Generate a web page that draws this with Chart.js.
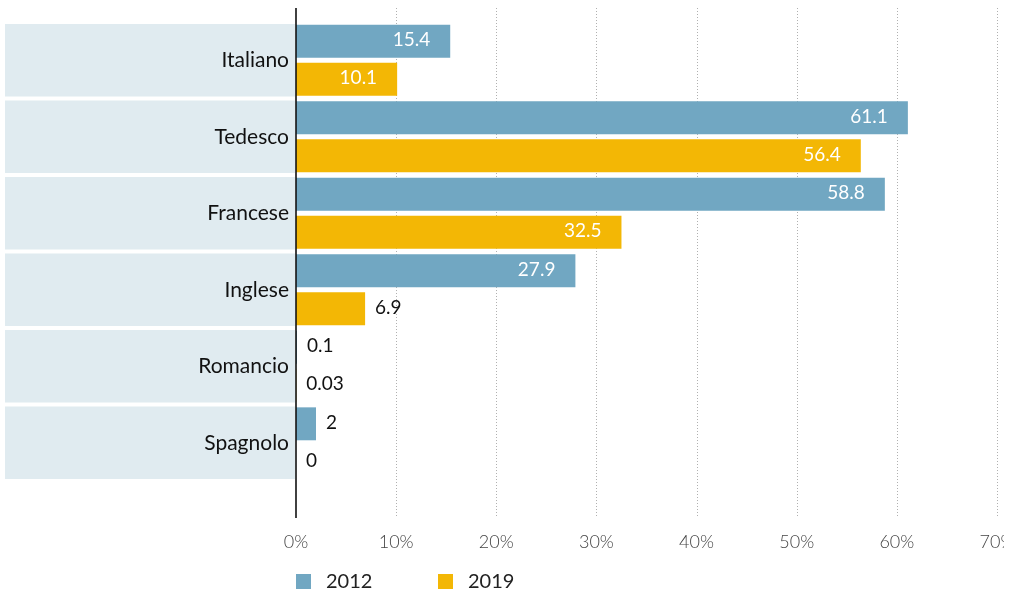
<!DOCTYPE html>
<html>
<head>
<meta charset="utf-8">
<script src="https://cdn.jsdelivr.net/npm/chart.js@4/dist/chart.umd.min.js"></script>
<style>
  html, body { margin: 0; padding: 0; background: #fff; overflow: hidden; }
  #wrap { width: 1004px; height: 591px; overflow: hidden; }
  canvas { display: block; }
</style>
</head>
<body>
<div id="wrap"><canvas id="c" width="1013" height="591"></canvas></div>
<script>
// Languages and shares per survey year (percent)
const categories = ['Italiano', 'Tedesco', 'Francese', 'Inglese', 'Romancio', 'Spagnolo'];
const seriesLabels = ['2012', '2019'];
const values2012 = [15.4, 61.1, 58.8, 27.9, 0.1, 2];
const values2019 = [10.1, 56.4, 32.5, 6.9, 0.03, 0];
const xTickValues = [0, 10, 20, 30, 40, 50, 60, 70];

const BLUE = '#71a7c2';
const YELLOW = '#f3b705';
const ROW_BG = '#e0ebf0';
const FONT = 'Lato, "Open Sans", sans-serif';

// Shaded row panels behind each category label
const rowPanels = {
  id: 'rowPanels',
  beforeDraw(chart) {
    const { ctx, chartArea, scales: { y } } = chart;
    const band = chartArea.height / categories.length;
    ctx.save();
    ctx.fillStyle = ROW_BG;
    categories.forEach((_, i) => {
      const cy = y.getPixelForValue(i);
      ctx.fillRect(5, cy - band / 2 + 2, chartArea.left - 6, band - 4);
    });
    ctx.restore();
  }
};

// Dotted vertical grid and the solid zero axis, running past the plot area
const gridAndAxis = {
  id: 'gridAndAxis',
  beforeDatasetsDraw(chart) {
    const { ctx, scales: { x } } = chart;
    ctx.save();
    ctx.strokeStyle = '#b0b0b0';
    ctx.lineWidth = 1;
    ctx.setLineDash([1, 2]);
    xTickValues.slice(1).forEach(v => {
      const px = Math.round(x.getPixelForValue(v)) + 0.5;
      ctx.beginPath();
      ctx.moveTo(px, 8);
      ctx.lineTo(px, 518);
      ctx.stroke();
    });
    ctx.restore();
  },
  afterDatasetsDraw(chart) {
    const { ctx, scales: { x } } = chart;
    const px = x.getPixelForValue(0);
    ctx.save();
    ctx.strokeStyle = '#111';
    ctx.lineWidth = 1.6;
    ctx.beginPath();
    ctx.moveTo(px, 8);
    ctx.lineTo(px, 518);
    ctx.stroke();
    ctx.restore();
  }
};

// Value labels: inside the bar end for long bars, just past the end otherwise
const valueLabels = {
  id: 'valueLabels',
  afterDatasetsDraw(chart) {
    const { ctx } = chart;
    ctx.save();
    ctx.font = '19px ' + FONT;
    ctx.textBaseline = 'middle';
    chart.data.datasets.forEach((ds, di) => {
      const meta = chart.getDatasetMeta(di);
      meta.data.forEach((bar, i) => {
        const v = ds.data[i];
        const text = String(v);
        const w = bar.x - bar.base;
        if (w > 80) {
          ctx.fillStyle = '#fff';
          ctx.textAlign = 'right';
          ctx.fillText(text, bar.x - 20, bar.y - 1);
        } else {
          ctx.fillStyle = '#111';
          ctx.textAlign = 'left';
          ctx.fillText(text, Math.max(bar.x, bar.base) + 10, bar.y - 1);
        }
      });
    });
    ctx.restore();
  }
};

// Legend row under the axis
const legendRow = {
  id: 'legendRow',
  afterDraw(chart) {
    const { ctx, chartArea } = chart;
    ctx.save();
    ctx.font = '20px ' + FONT;
    ctx.textBaseline = 'middle';
    ctx.textAlign = 'left';
    chart.data.datasets.forEach((ds, i) => {
      const x0 = chartArea.left + i * 142;
      ctx.fillStyle = ds.backgroundColor;
      ctx.fillRect(x0, 574, 15, 15);
      ctx.fillStyle = '#222';
      ctx.fillText(ds.label, x0 + 30, 582);
    });
    ctx.restore();
  }
};

new Chart(document.getElementById('c'), {
  type: 'bar',
  data: {
    labels: categories,
    datasets: [
      { label: seriesLabels[0], data: values2012, backgroundColor: BLUE },
      { label: seriesLabels[1], data: values2019, backgroundColor: YELLOW }
    ]
  },
  options: {
    indexAxis: 'y',
    responsive: false,
    animation: false,
    categoryPercentage: 0.99,
    barPercentage: 0.87,
    layout: { padding: { top: 22, right: 16, bottom: 30, left: 0 } },
    plugins: { legend: { display: false }, tooltip: { enabled: false } },
    scales: {
      x: {
        min: 0,
        max: 70,
        grid: { display: false, drawTicks: false },
        border: { display: false },
        ticks: {
          stepSize: 10,
          padding: 50,
          maxRotation: 0,
          color: '#444',
          font: { family: FONT, size: 18, weight: '300' },
          callback: v => v + '%'
        },
        afterFit(s) { s.height = 80; s.paddingRight = 0; s.paddingLeft = 0; }
      },
      y: {
        grid: { display: false, drawTicks: false },
        border: { display: false },
        ticks: {
          padding: 7,
          color: '#111',
          font: { family: FONT, size: 21 }
        },
        afterFit(s) { s.width = 296; }
      }
    }
  },
  plugins: [rowPanels, gridAndAxis, valueLabels, legendRow]
});
</script>
</body>
</html>
